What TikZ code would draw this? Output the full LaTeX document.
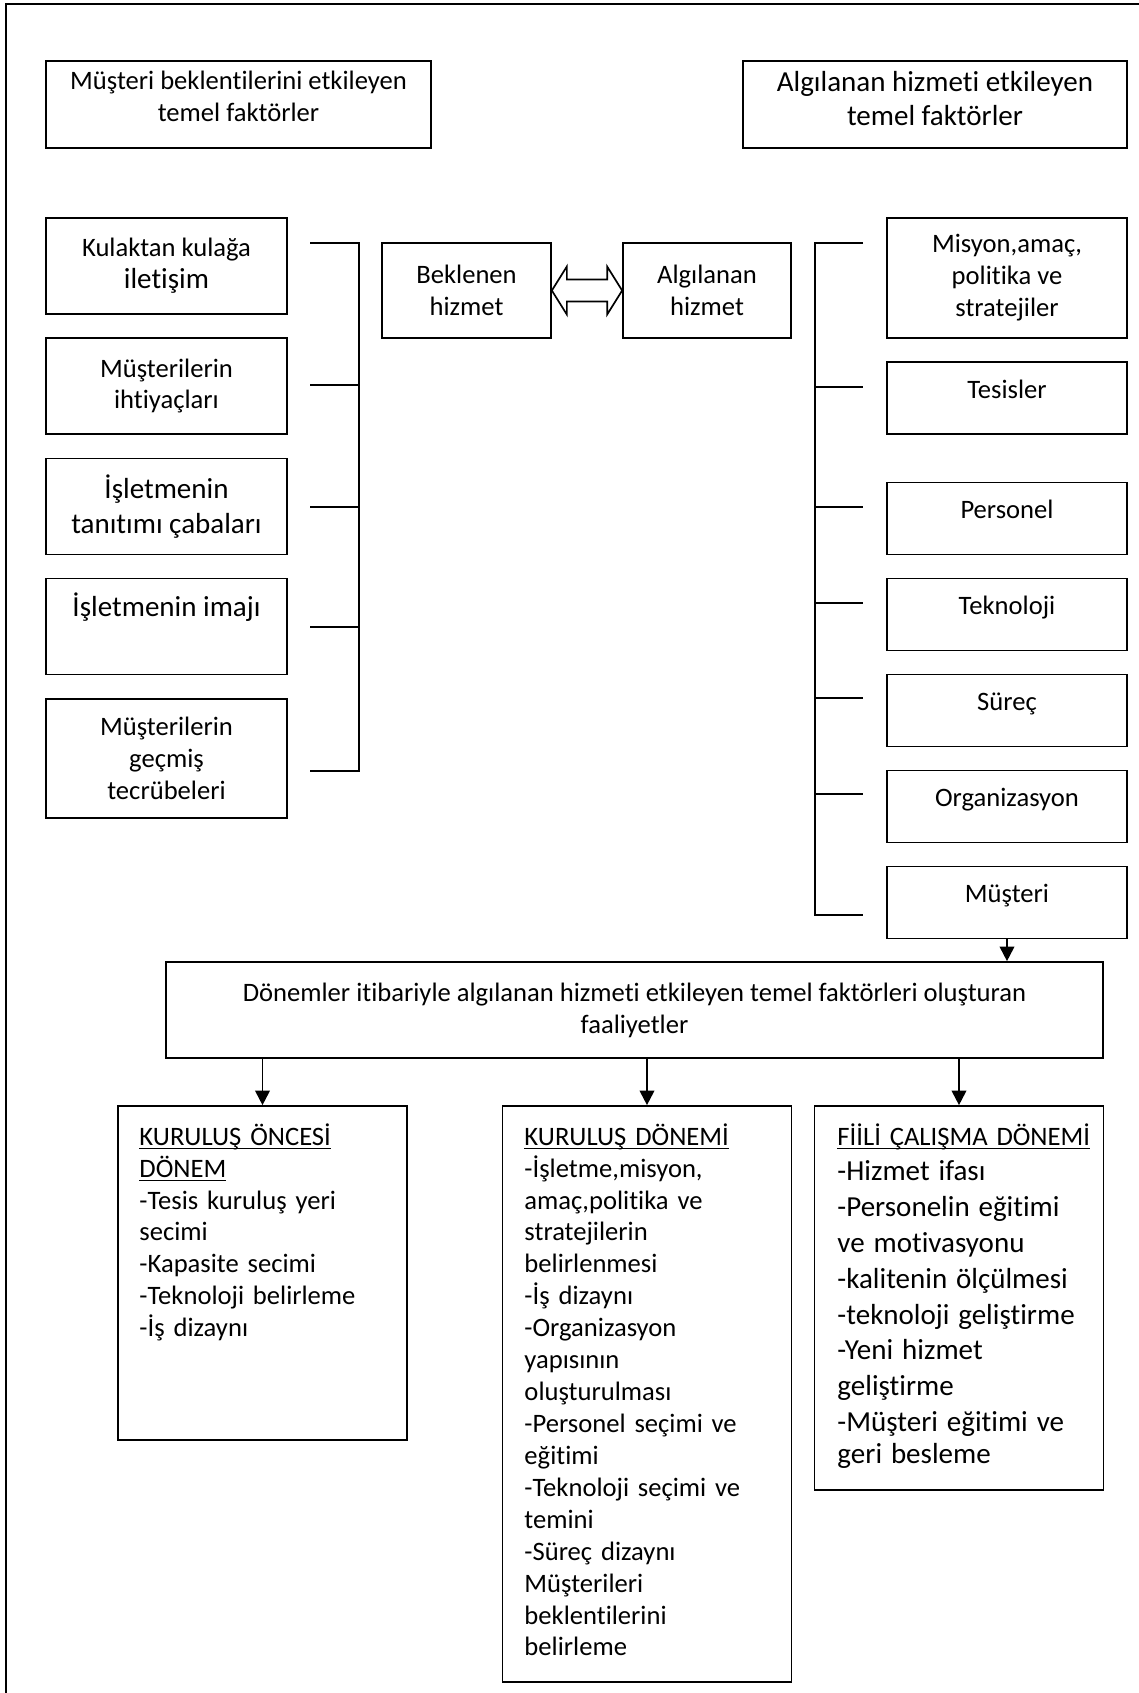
\documentclass[tikz,border=0pt]{standalone}
\usepackage{fontspec}
\setmainfont{Carlito}[Ligatures=NoCommon]
\usetikzlibrary{arrows.meta, calc}
\newcommand{\birim}{0.4135pt}
\newcommand{\baslik}[1]{\underline{\raisebox{0pt}[\height][0pt]{#1}}}
\tikzset{
  kutu/.style={draw, line width=0.7pt, align=center, inner sep=0pt, font=\fontsize{11}{13.2}\selectfont},
  buyuk/.style={font=\fontsize{12}{14.4}\selectfont},
  kisa/.style={text height=8pt, text depth=8pt},
  solkutu/.style={kutu, minimum width=241*\birim, minimum height=96*\birim},
  sagkutu/.style={kutu, kisa, minimum width=240*\birim, minimum height=72*\birim},
  altkutu/.style={kutu, minimum width=289*\birim},
  liste/.style={anchor=north west, inner sep=0pt, align=left, font=\fontsize{11}{13.2}\selectfont},
  ok/.style={-{Triangle[length=6pt, width=6pt]}, line width=0.8pt},
}

\begin{document}
\begin{tikzpicture}[x=\birim, y=-\birim]
    % Cerceve
    \useasboundingbox (0,0) rectangle (1139,1693);
    \draw[line width=0.8pt] (6,1693) -- (6,4) -- (1139,4);
    % Basliklar
    \node[kutu, text depth=6.6pt, minimum width=385*\birim, minimum height=87*\birim] (solbaslik) at (238.5,104.5) {Müşteri beklentilerini etkileyen\\temel faktörler};
    \node[kutu, buyuk, text depth=5pt, minimum width=384*\birim, minimum height=87*\birim] (sagbaslik) at (935,104.5) {Algılanan hizmeti etkileyen\\temel faktörler};
    % Sol sutun
    \node[solkutu] (kulak) at (166.5,266) {Kulaktan kulağa\\{\fontsize{12}{14.4}\selectfont iletişim}};
    \node[solkutu] (ihtiyac) at (166.5,386) {Müşterilerin\\ihtiyaçları};
    \node[solkutu, buyuk] (tanitim) at (166.5,506.5) {İşletmenin\\tanıtımı çabaları};
    \node[solkutu, buyuk, text height=9pt, text depth=17pt] (imaj) at (166.5,626.5) {İşletmenin imajı};
    \node[solkutu, minimum height=119*\birim] (gecmis) at (166.5,758.5) {Müşterilerin\\geçmiş\\tecrübeleri};
    \draw[line width=0.7pt] (310,243) -- (359,243) -- (359,771) -- (310,771);
    \foreach \y in {385,507,627} \draw[line width=0.7pt] (310,\y) -- (359,\y);
    % Orta
    \node[kutu, minimum width=169*\birim, minimum height=95*\birim] (bek) at (466.5,290.5) {Beklenen\\hizmet};
    \node[kutu, minimum width=168*\birim, minimum height=95*\birim] (alg) at (707,290.5) {Algılanan\\hizmet};
    \draw[line width=0.7pt] (bek.east) -- ++(15,-24) -- ++(0,13) -- ($(alg.west)+(-15,-11)$) -- ++(0,-13) -- (alg.west) -- ++(-15,24) -- ++(0,-13) -- ($(bek.east)+(15,11)$) -- ++(0,13) -- cycle;
    % Sag sutun
    \node[sagkutu, text height=, text depth=, minimum height=120*\birim] (misyon) at (1007,278) {Misyon,amaç,\\politika ve\\stratejiler};
    \node[sagkutu] (tesis) at (1007,398) {Tesisler};
    \node[sagkutu] (personel) at (1007,518.5) {Personel};
    \node[sagkutu] (teknoloji) at (1007,614.5) {Teknoloji};
    \node[sagkutu] (surec) at (1007,710.5) {Süreç};
    \node[sagkutu] (organizasyon) at (1007,806.5) {Organizasyon};
    \node[sagkutu] (musteri) at (1007,902.5) {Müşteri};
    \draw[line width=0.7pt] (863,243) -- (815,243) -- (815,915) -- (863,915);
    \foreach \y in {387,507,603,698,794} \draw[line width=0.7pt] (815,\y) -- (863,\y);
    % Donemler
    \node[kutu, minimum width=937*\birim, minimum height=96*\birim] (donem) at (634.5,1010) {Dönemler itibariyle algılanan hizmeti etkileyen temel faktörleri oluşturan\\faaliyetler};
    \draw[ok] (musteri.south) -- (musteri.south |- donem.north);
    \node[altkutu, minimum height=334*\birim] (oncesi) at (262.5,1273) {};
    \node[altkutu, minimum height=576*\birim] (kurulus) at (647,1394) {};
    \node[altkutu, minimum height=384*\birim] (fiili) at (959,1298) {};
    \foreach \k in {oncesi, kurulus, fiili} \draw[ok] (donem.south -| \k.north) -- (\k.north);
    % Listeler
    \node[liste, text width=250*\birim] (oncesimetin) at (139,1123) {\baslik{KURULUŞ ÖNCESİ}\\
        \baslik{DÖNEM}\\
        -Tesis kuruluş yeri\\
        secimi\\
        -Kapasite secimi\\
        -Teknoloji belirleme\\
        -İş dizaynı};
    \node[liste, text width=250*\birim] (kurulusmetin) at (524,1123) {\baslik{KURULUŞ DÖNEMİ}\\
        -İşletme,misyon,\\
        amaç,politika ve\\
        stratejilerin\\
        belirlenmesi\\
        -İş dizaynı\\
        -Organizasyon\\
        yapısının\\
        oluşturulması\\
        -Personel seçimi ve\\
        eğitimi\\
        -Teknoloji seçimi ve\\
        temini\\
        -Süreç dizaynı\\
        Müşterileri\\
        beklentilerini\\
        belirleme};
    \node[liste, text width=262*\birim] (fiilimetin) at (837,1123) {\baslik{FİİLİ ÇALIŞMA DÖNEMİ}\\
        \fontsize{12}{14.8}\selectfont -Hizmet ifası\\
        -Personelin eğitimi\\
        ve motivasyonu\\
        -kalitenin ölçülmesi\\
        -teknoloji geliştirme\\
        -Yeni hizmet\\
        geliştirme\\
        -Müşteri eğitimi ve\\
        geri besleme};
\end{tikzpicture}
\end{document}
